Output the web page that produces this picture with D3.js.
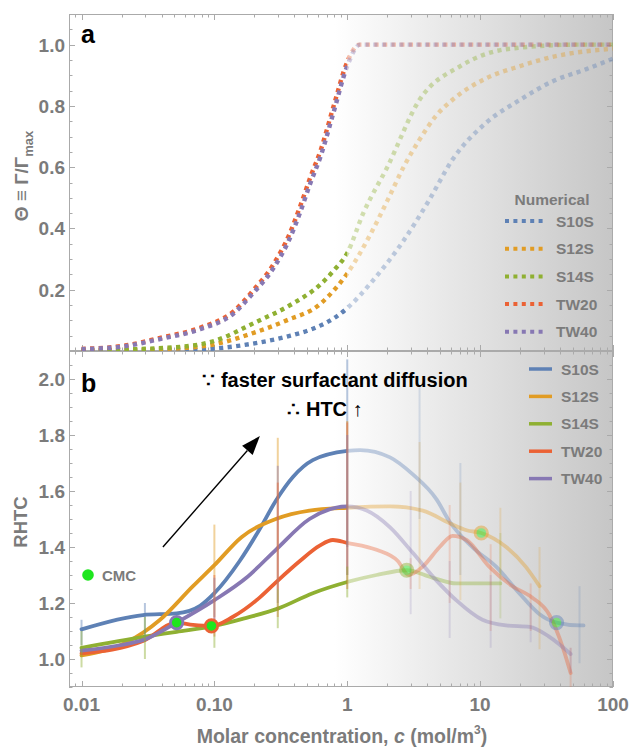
<!DOCTYPE html>
<html>
<head>
<meta charset="utf-8">
<script src="https://cdn.jsdelivr.net/npm/d3@7"></script>
<style>
	body { margin: 0; background: #fff; }
	text { font-family: "Liberation Sans", Arial, sans-serif; font-weight: bold; }
</style>
</head>
<body>
<svg id="chart"></svg>
<script>
// series names and colours
const names = ['S10S', 'S12S', 'S14S', 'TW20', 'TW40'];
const colors = ['#5e81b5', '#e19c24', '#8fb032', '#eb6235', '#8778b3'];

// panel a : surface coverage, [c, theta]
const thetaS10S = [[0.01, 0.001], [0.05, 0.003], [0.1, 0.008], [0.2, 0.025], [0.35, 0.047], [0.62, 0.082], [0.8, 0.108], [1, 0.14], [1.49, 0.22], [2.65, 0.36], [4.1, 0.49], [6.2, 0.625], [11.1, 0.745], [20, 0.82], [35, 0.88], [63, 0.92], [100, 0.954]];
const thetaS12S = [[0.01, 0.001], [0.05, 0.008], [0.1, 0.022], [0.2, 0.06], [0.35, 0.1], [0.62, 0.152], [0.8, 0.2], [1, 0.253], [1.49, 0.38], [2.0, 0.49], [2.65, 0.6], [3.5, 0.69], [4.7, 0.77], [6.2, 0.82], [11.1, 0.89], [20, 0.93], [35, 0.96], [100, 0.987]];
const thetaS14S = [[0.01, 0.002], [0.05, 0.012], [0.1, 0.033], [0.2, 0.092], [0.39, 0.155], [0.62, 0.215], [0.8, 0.265], [1, 0.32], [1.32, 0.45], [2.0, 0.6], [3.5, 0.82], [7.1, 0.93], [15.7, 0.985], [56, 1.0], [100, 1.0]];
const thetaTW20 = [[0.01, 0.007], [0.02, 0.016], [0.039, 0.043], [0.078, 0.076], [0.14, 0.13], [0.195, 0.197], [0.28, 0.285], [0.37, 0.385], [0.44, 0.47], [0.53, 0.57], [0.63, 0.655], [0.79, 0.8], [1, 0.944], [1.23, 1.0], [3, 1.0], [100, 1.0]];
const thetaTW40 = [[0.01, 0.006], [0.02, 0.014], [0.039, 0.039], [0.078, 0.071], [0.14, 0.123], [0.195, 0.188], [0.28, 0.272], [0.37, 0.368], [0.44, 0.45], [0.53, 0.55], [0.63, 0.635], [0.79, 0.78], [1, 0.93], [1.25, 1.0], [3, 1.0], [100, 1.0]];
const thetaData = [thetaS10S, thetaS12S, thetaS14S, thetaTW20, thetaTW40];

// panel b : relative heat transfer coefficient, [c, RHTC]
const rhtcS10S = [[0.01, 1.106], [0.029, 1.157], [0.052, 1.163], [0.078, 1.19], [0.1, 1.235], [0.155, 1.35], [0.22, 1.465], [0.29, 1.565], [0.39, 1.65], [0.55, 1.71], [1, 1.743], [1.25, 1.746], [2.1, 1.72], [3.1, 1.66], [4.7, 1.57], [5.9, 1.49], [8.7, 1.4], [13.2, 1.33], [19.7, 1.235], [28, 1.16], [37.6, 1.13], [56, 1.12], [60, 1.12]];
const rhtcS12S = [[0.01, 1.013], [0.022, 1.06], [0.039, 1.14], [0.069, 1.26], [0.1, 1.335], [0.16, 1.435], [0.29, 1.5], [0.52, 1.53], [1, 1.54], [2.1, 1.545], [3.7, 1.53], [5.9, 1.485], [7.9, 1.46], [10.2, 1.45], [15.7, 1.4], [22, 1.33], [28, 1.26]];
const rhtcS14S = [[0.01, 1.04], [0.03, 1.08], [0.052, 1.097], [0.1, 1.118], [0.174, 1.147], [0.3, 1.18], [0.55, 1.235], [1, 1.275], [1.66, 1.3], [2.8, 1.317], [4.4, 1.29], [6.6, 1.27], [14.2, 1.27]];
const rhtcTW20 = [[0.01, 1.02], [0.029, 1.064], [0.052, 1.13], [0.069, 1.122], [0.095, 1.118], [0.137, 1.15], [0.22, 1.22], [0.3, 1.28], [0.44, 1.35], [0.62, 1.405], [0.78, 1.425], [1, 1.415], [1.66, 1.39], [2.4, 1.35], [2.9, 1.3], [3.7, 1.33], [4.96, 1.4], [6.2, 1.44], [7.9, 1.425], [11.7, 1.33], [17.5, 1.26], [24.6, 1.22], [33, 1.16], [42, 1.04], [48, 0.95]];
const rhtcTW40 = [[0.01, 1.03], [0.02, 1.05], [0.03, 1.07], [0.052, 1.13], [0.1, 1.21], [0.174, 1.29], [0.29, 1.39], [0.52, 1.5], [1, 1.545], [1.4, 1.53], [2.1, 1.47], [3.1, 1.38], [4.7, 1.28], [6.6, 1.21], [10.4, 1.14], [15.7, 1.12], [23.6, 1.115], [33, 1.08], [48, 1.018]];
const rhtcData = [rhtcS10S, rhtcS12S, rhtcS14S, rhtcTW20, rhtcTW40];

// error bars: [c, low, high, series]
const errBars = [
	[0.01, 1.05, 1.14, 0], [0.01, 0.97, 1.10, 2],
	[0.03, 1.08, 1.20, 0], [0.03, 1.00, 1.15, 2],
	[0.1, 1.15, 1.48, 1], [0.1, 1.08, 1.30, 3], [0.1, 1.10, 1.29, 4], [0.1, 1.04, 1.12, 2],
	[0.3, 1.25, 1.79, 1], [0.3, 1.20, 1.69, 4], [0.3, 1.15, 1.63, 3], [0.3, 1.11, 1.25, 2],
	[1, 1.40, 2.07, 0], [1, 1.30, 1.85, 1], [1, 1.25, 1.845, 3], [1, 1.30, 1.80, 4], [1, 1.22, 1.33, 2],
	[3, 1.16, 1.60, 4], [3, 1.25, 1.36, 3],
	[3.5, 1.50, 1.97, 0], [3.5, 1.25, 1.775, 1],
	[5.9, 1.20, 1.55, 3], [5.9, 1.075, 1.35, 4],
	[7.1, 1.30, 1.70, 0], [7.1, 1.21, 1.63, 1],
	[12, 1.10, 1.41, 3], [12, 1.04, 1.30, 4],
	[14.2, 1.30, 1.54, 1], [14.2, 1.145, 1.45, 2],
	[24, 1.10, 1.27, 3], [24, 1.06, 1.20, 4],
	[28, 1.035, 1.40, 1],
	[48, 0.88, 1.04, 3], [48, 0.95, 1.04, 4],
	[56, 0.985, 1.26, 0]
];

// CMC markers: [c, RHTC, series]
const cmcPoints = [[0.052, 1.13, 4], [0.095, 1.118, 3], [2.8, 1.317, 2], [10.2, 1.45, 1], [37.6, 1.13, 0]];

const xTicks = [0.01, 0.1, 1, 10, 100];
const xTickLabels = ['0.01', '0.10', '1', '10', '100'];
const thetaTicks = [0.2, 0.4, 0.6, 0.8, 1.0];
const rhtcTicks = [1.0, 1.2, 1.4, 1.6, 1.8, 2.0];

let W = 632, H = 749;
let left = 69, right = 613;
let aTop = 14, mid = 351, bBottom = 687;
let gray = '#7b7b7b';

let svg = d3.select('#chart').attr('width', W).attr('height', H);

let x = d3.scaleLog().domain([0.00805, 100]).range([left, right]);
let yA = d3.scaleLinear().domain([0, 1.1]).range([mid, aTop]);
let yB = d3.scaleLinear().domain([0.9, 2.1]).range([bBottom, mid]);

let defs = svg.append('defs');
let grad = defs.append('linearGradient')
	.attr('id', 'shade')
	.attr('gradientUnits', 'userSpaceOnUse')
	.attr('x1', x(0.8)).attr('x2', right).attr('y1', 0).attr('y2', 0);
grad.append('stop').attr('offset', 0).attr('stop-color', '#ffffff');
grad.append('stop').attr('offset', 1).attr('stop-color', '#c6c6c6');

// clip regions: left of c=1 is drawn solid, right of it faded
function addClip(id, x0, x1, y0, y1) {
	defs.append('clipPath').attr('id', id)
		.append('rect').attr('x', x0).attr('y', y0).attr('width', x1 - x0).attr('height', y1 - y0);
}
addClip('aLow', left, x(1), aTop, mid);
addClip('aHigh', x(1), right, aTop, mid);
addClip('bLow', left, x(1), mid, bBottom);
addClip('bHigh', x(1), right, mid, bBottom);
addClip('bAll', left, right, mid, bBottom);

svg.append('rect')
	.attr('x', left).attr('y', aTop)
	.attr('width', right - left).attr('height', bBottom - aTop)
	.attr('fill', 'url(#shade)');

// frame + ticks
function frame(yScale, top, bottom, step, major) {
	let g = svg.append('g').attr('stroke', '#aaa').attr('stroke-width', 1).attr('fill', 'none');
	g.append('rect').attr('x', left + 0.5).attr('y', top + 0.5).attr('width', right - left - 1).attr('height', bottom - top - 1);
	let d = yScale.domain();
	let vals = d3.range(Math.ceil(d[0] / step - 1e-6) * step, d[1] + 1e-6, step);
	vals.forEach(v => {
		let isMajor = Math.abs(v / major - Math.round(v / major)) < 1e-6;
		let len = isMajor ? 6 : 3.5;
		let yy = Math.round(yScale(v)) + 0.5;
		g.append('line').attr('x1', left).attr('x2', left + len).attr('y1', yy).attr('y2', yy);
		g.append('line').attr('x1', right).attr('x2', right - len).attr('y1', yy).attr('y2', yy);
	});
	x.ticks().forEach(v => {
		let isMajor = Math.abs(Math.log10(v) - Math.round(Math.log10(v))) < 1e-6;
		let len = isMajor ? 6 : 3.5;
		let xx = Math.round(x(v)) + 0.5;
		g.append('line').attr('x1', xx).attr('x2', xx).attr('y1', top).attr('y2', top + len);
		g.append('line').attr('x1', xx).attr('x2', xx).attr('y1', bottom).attr('y2', bottom - len);
	});
}
frame(yA, aTop, mid, 0.05, 0.2);
frame(yB, mid, bBottom, 0.05, 0.2);

// PANEL A
let lineA = d3.line().x(d => x(d[0])).y(d => yA(d[1])).curve(d3.curveMonotoneX);
[['aLow', 1], ['aHigh', 0.38]].forEach(([clip, op]) => {
	let g = svg.append('g').attr('clip-path', `url(#${clip})`);
	thetaData.forEach((data, i) => {
		g.append('path')
			.attr('d', lineA(data))
			.attr('fill', 'none')
			.attr('stroke', colors[i])
			.attr('stroke-opacity', op)
			.attr('stroke-width', 4.4)
			.attr('stroke-dasharray', '4.2,4.4');
	});
});

// PANEL B
let lineB = d3.line().x(d => x(d[0])).y(d => yB(d[1])).curve(d3.curveMonotoneX);
[['bLow', 1], ['bHigh', 0.38]].forEach(([clip, op]) => {
	let g = svg.append('g').attr('clip-path', `url(#${clip})`);
	rhtcData.forEach((data, i) => {
		g.append('path')
			.attr('d', lineB(data))
			.attr('fill', 'none')
			.attr('stroke', colors[i])
			.attr('stroke-opacity', op)
			.attr('stroke-width', 3.8)
			.attr('stroke-linecap', 'round');
	});
});

svg.append('g').attr('clip-path', 'url(#bAll)')
	.selectAll('line').data(errBars).enter().append('line')
	.attr('x1', d => x(d[0])).attr('x2', d => x(d[0]))
	.attr('y1', d => yB(d[1])).attr('y2', d => yB(d[2]))
	.attr('stroke', d => colors[d[3]])
	.attr('stroke-width', 2)
	.attr('stroke-opacity', d => d[0] <= 1 ? 0.45 : 0.2);

svg.append('g').selectAll('circle').data(cmcPoints).enter().append('circle')
	.attr('cx', d => x(d[0])).attr('cy', d => yB(d[1]))
	.attr('r', 6.2)
	.attr('fill', '#1ee61e')
	.attr('stroke', d => colors[d[2]])
	.attr('stroke-width', 2.8)
	.attr('opacity', d => d[0] <= 1 ? 1 : 0.45);

// arrow annotation
let ax0 = x(0.041), ay0 = yB(1.40), ax1 = x(0.22), ay1 = yB(1.796);
let ang = Math.atan2(ay1 - ay0, ax1 - ax0);
let hl = 19, hw = 7;
let bx = ax1 - hl * Math.cos(ang), by = ay1 - hl * Math.sin(ang);
svg.append('line')
	.attr('x1', ax0).attr('y1', ay0).attr('x2', bx).attr('y2', by)
	.attr('stroke', '#000').attr('stroke-width', 1.4);
svg.append('path')
	.attr('d', `M${ax1},${ay1}L${bx - hw * Math.sin(ang)},${by + hw * Math.cos(ang)}L${bx + hw * Math.sin(ang)},${by - hw * Math.cos(ang)}Z`)
	.attr('fill', '#000');

svg.append('text').attr('x', 335).attr('y', 387).attr('text-anchor', 'middle')
	.style('font-size', '20px').attr('fill', '#000').text('∵ faster surfactant diffusion');
svg.append('text').attr('x', 325).attr('y', 416).attr('text-anchor', 'middle')
	.style('font-size', '20px').attr('fill', '#000').text('∴ HTC ↑');

// CMC key
svg.append('circle').attr('cx', 88).attr('cy', 575).attr('r', 5.8).attr('fill', '#1ee61e');
svg.append('text').attr('x', 102).attr('y', 580.5).style('font-size', '15px').attr('fill', gray).text('CMC');

// panel letters
svg.append('text').attr('x', 81).attr('y', 43).style('font-size', '25px').attr('fill', '#000').text('a');
svg.append('text').attr('x', 81).attr('y', 392).style('font-size', '25px').attr('fill', '#000').text('b');

// AXES labels
svg.selectAll('.ta').data(thetaTicks).enter().append('text')
	.attr('x', 65).attr('y', d => yA(d) + 7)
	.attr('text-anchor', 'end').style('font-size', '19px').attr('fill', gray)
	.text(d => d.toFixed(1));
svg.selectAll('.tb').data(rhtcTicks).enter().append('text')
	.attr('x', 65).attr('y', d => yB(d) + 7)
	.attr('text-anchor', 'end').style('font-size', '19px').attr('fill', gray)
	.text(d => d.toFixed(1));
svg.selectAll('.tx').data(xTicks).enter().append('text')
	.attr('x', d => x(d)).attr('y', 711)
	.attr('text-anchor', 'middle').style('font-size', '19px').attr('fill', gray)
	.text((d, i) => xTickLabels[i]);

let yt = svg.append('text')
	.attr('transform', 'translate(28,176) rotate(-90)')
	.attr('text-anchor', 'middle').style('font-size', '19px').attr('fill', gray);
yt.append('tspan').text('Θ ≡ Γ/Γ');
yt.append('tspan').attr('dy', 5).style('font-size', '13px').text('max');

svg.append('text')
	.attr('transform', 'translate(27,522) rotate(-90)')
	.attr('text-anchor', 'middle').style('font-size', '18.5px').attr('fill', gray)
	.text('RHTC');

let xt = svg.append('text').attr('x', 342).attr('y', 743)
	.attr('text-anchor', 'middle').style('font-size', '19.5px').attr('fill', gray);
xt.append('tspan').text('Molar concentration, ');
xt.append('tspan').style('font-style', 'italic').text('c');
xt.append('tspan').text(' (mol/m');
xt.append('tspan').attr('dy', -9).style('font-size', '12px').text('3');
xt.append('tspan').attr('dy', 9).text(')');

// LEGENDS
svg.append('text').attr('x', 552).attr('y', 205).attr('text-anchor', 'middle')
	.style('font-size', '15.5px').attr('fill', gray).text('Numerical');
let legA = svg.append('g').selectAll('g').data(names).enter().append('g')
	.attr('transform', (d, i) => `translate(0,${221 + i * 27.7})`);
legA.append('line').attr('x1', 505).attr('x2', 546).attr('y1', 0).attr('y2', 0)
	.attr('stroke', (d, i) => colors[i]).attr('stroke-width', 4).attr('stroke-dasharray', '4,4.4');
legA.append('text').attr('x', 556).attr('y', 5.5).style('font-size', '15.5px').attr('fill', gray).text(d => d);

let legB = svg.append('g').selectAll('g').data(names).enter().append('g')
	.attr('transform', (d, i) => `translate(0,${369 + i * 27.4})`);
legB.append('line').attr('x1', 529).attr('x2', 552).attr('y1', 0).attr('y2', 0)
	.attr('stroke', (d, i) => colors[i]).attr('stroke-width', 3.5);
legB.append('text').attr('x', 561).attr('y', 5.5).style('font-size', '15.5px').attr('fill', gray).text(d => d);
</script>
</body>
</html>
